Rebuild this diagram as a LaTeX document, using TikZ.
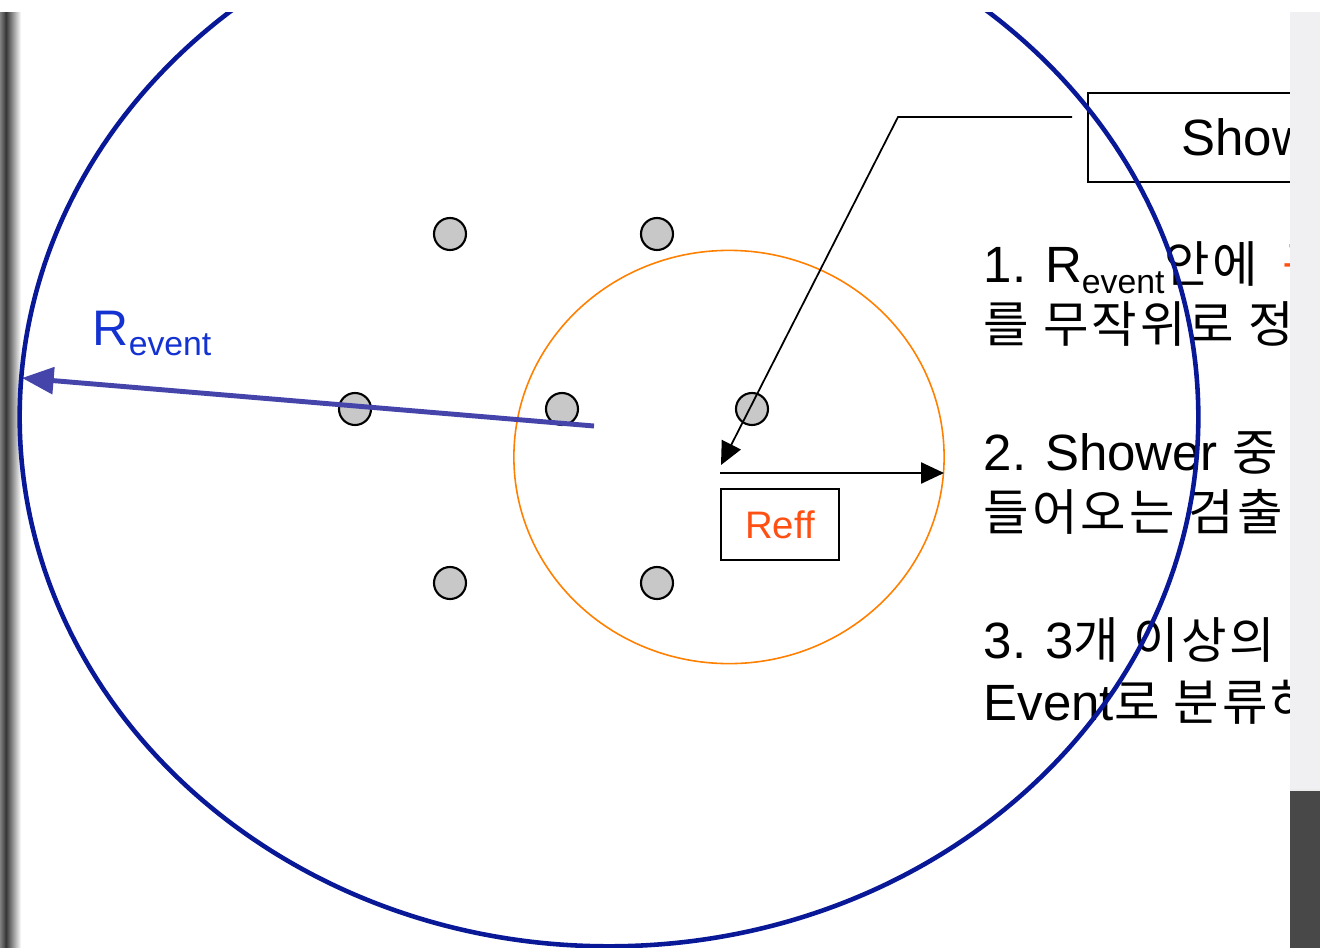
\documentclass[tikz,border=0pt]{standalone}
\usepackage{fontspec}
\setmainfont{Liberation Sans}
\newfontfamily\kr[Scale=0.97,LetterSpace=6]{Noto Sans CJK KR}
\usepackage{xcolor}
\usepackage{tikz}
\usetikzlibrary{arrows.meta,positioning}
\definecolor{evblue}{RGB}{8,24,150}
\definecolor{arrblue}{RGB}{68,68,170}
\definecolor{lblblue}{RGB}{20,50,210}
\definecolor{effor}{RGB}{255,128,0}
\definecolor{refftxt}{RGB}{255,80,20}
\definecolor{detgray}{RGB}{200,200,200}
\definecolor{panel}{RGB}{240,240,243}
\definecolor{floor}{RGB}{72,72,72}
\newcommand{\lowidx}[1]{\raisebox{-0.22em}{\fontsize{9.6}{10}\selectfont #1}}

\begin{document}
\begin{tikzpicture}[
  x=0.01cm, y=-0.01cm,
  det/.style={circle, draw, fill=detgray, line width=0.6pt, minimum size=0.32cm, inner sep=0pt},
  box/.style={draw, line width=0.5pt, inner sep=0pt, align=center},
  arr/.style={-{Triangle[length=6.5pt,width=6pt]}, line width=0.5pt},
  bigarr/.style={-{Triangle[length=9pt,width=7.5pt]}, line width=1.4pt, arrblue},
  txt/.style={anchor=base west, inner sep=0pt, font=\fontsize{14.5}{17}\selectfont}
]
  \useasboundingbox (0,0) rectangle (1320,948);
  \fill[white] (0,0) rectangle (1320,948);
  \shade[left color=black!50, right color=black!78] (0,12) rectangle (6,948);
  \shade[left color=black!78, right color=white] (6,12) rectangle (21,948);

  \node[txt] (l1) at (983,282) {1. R\lowidx{event}{\kr 안에}};
  \node[txt, text=refftxt] (l1b) at (1282,282) {{\kr 구}};
  \node[txt] (l2) at (983,342) {{\kr 를 무작위로 정}};
  \node[txt] (l3) at (983,470) {2. Shower {\kr 중}};
  \node[txt] (l4) at (983,530) {{\kr 들어오는 검출}};
  \node[txt] (l5) at (983,658) {3. 3{\kr 개 이상의}};
  \node[txt] (l6) at (983,720) {Event{\kr 로 분류하}};
  \node[box, anchor=north west, minimum width=3.6cm, minimum height=0.89cm,
        font=\fontsize{14.5}{17}\selectfont] (shower) at (1087,92) {Shower};

  \node[det] (d1) at (450,234) {};
  \node[det] (d2) at (657,234) {};
  \node[det] (d3) at (355,409) {};
  \node[det] (d4) at (562,409) {};
  \node[det] (d5) at (752,409) {};
  \node[det] (d6) at (450,583) {};
  \node[det] (d7) at (657,583) {};

  \draw[effor, line width=0.45pt] (729,457) ellipse [x radius=2.15cm, y radius=2.065cm];

  \node[box, minimum width=1.18cm, minimum height=0.71cm, text=refftxt,
        font=\fontsize{10.9}{12}\selectfont] (reff) at (780,524.5) {Reff};
  \node[txt, text=lblblue, font=\fontsize{14.2}{17}\selectfont] (revent) at (92,345) {R\lowidx{event}};

  \coordinate (ctr) at (720,473);
  \coordinate (reffend) at (944,473);
  \coordinate (lead) at (1072,117);
  \coordinate (bend) at (898,117);
  \coordinate (core) at (721,465);
  \coordinate (evctr) at (594,426);
  \coordinate (evedge) at (22,378);

  \draw[arr] (ctr) -- (reffend);
  \draw[arr] (lead) -- (bend) -- (core);
  \draw[bigarr] (evctr) -- (evedge);

  \begin{scope}
    \clip (0,12) rectangle (1290,948);
    \draw[evblue, line width=1.3pt] (609,417) ellipse [x radius=5.89cm, y radius=5.29cm];
  \end{scope}

  \fill[panel] (1290,12) rectangle (1320,790);
  \fill[floor] (1290,790) rectangle (1320,948);
  \draw[white!85!gray, line width=0.5pt] (1290,790) -- (1320,790);
\end{tikzpicture}
\end{document}
